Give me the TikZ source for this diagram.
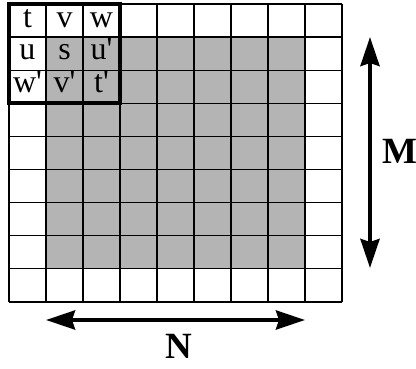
\documentclass[tikz,border=0pt]{standalone}
\usepackage{fontspec}
\setmainfont{Liberation Serif}
\usetikzlibrary{arrows.meta}
\definecolor{cellgray}{RGB}{180,180,180}
\newcommand{\pr}{\textquotesingle}
\begin{document}
\begin{tikzpicture}[x=1pt,y=-1pt,
  gridline/.style={line width=1.3pt,black},
  thickbox/.style={line width=3.6pt,black},
  dimarrow/.style={line width=4pt},
  celltext/.style={anchor=base,inner sep=0pt,font=\fontsize{32}{32}\selectfont},
  dimlabel/.style={anchor=base west,inner sep=0pt,font=\fontsize{37}{37}\selectfont\bfseries}]
\useasboundingbox (0,0) rectangle (416,369);
\def\cw{37}
\def\ch{33.1}
% gray region
\fill[cellgray] (9+\cw,4+\ch) rectangle (9+8*\cw,4+8*\ch);
% grid
\foreach \i in {0,...,9} {
  \draw[gridline] (9+\i*\cw,4) -- (9+\i*\cw,4+9*\ch);
  \draw[gridline] (9,4+\i*\ch) -- (9+9*\cw,4+\i*\ch);
}
% thick box
\draw[thickbox] (9,4) rectangle (9+3*\cw,4+3*\ch);
% cell labels
\node[celltext] (t)  at (9+0.5*\cw,28) {t};
\node[celltext] (v)  at (9+1.5*\cw,28) {v};
\node[celltext] (w)  at (9+2.5*\cw,28) {w};
\node[celltext] (u)  at (9+0.5*\cw,60) {u};
\node[celltext] (s)  at (9+1.5*\cw,60) {s};
\node[celltext] (up) at (9+2.5*\cw,60) {u\pr};
\node[celltext] (wp) at (9+0.5*\cw,93) {w\pr};
\node[celltext] (vp) at (9+1.5*\cw,93) {v\pr};
\node[celltext] (tp) at (9+2.5*\cw,93) {t\pr};
% arrows
\coordinate (mtop) at (370,37);
\coordinate (mbot) at (370,268);
\draw[dimarrow,{Stealth[length=29pt,width=19pt,inset=3pt]}-{Stealth[length=29pt,width=19pt,inset=3pt]}] (mtop) -- (mbot);
\coordinate (nleft) at (46,320);
\coordinate (nright) at (305,320);
\draw[dimarrow,{Stealth[length=29pt,width=19pt,inset=3pt]}-{Stealth[length=29pt,width=19pt,inset=3pt]}] (nleft) -- (nright);
\node[dimlabel] (M) at (382,164) {M};
\node[dimlabel] (N) at (165,359) {N};
\end{tikzpicture}
\end{document}
